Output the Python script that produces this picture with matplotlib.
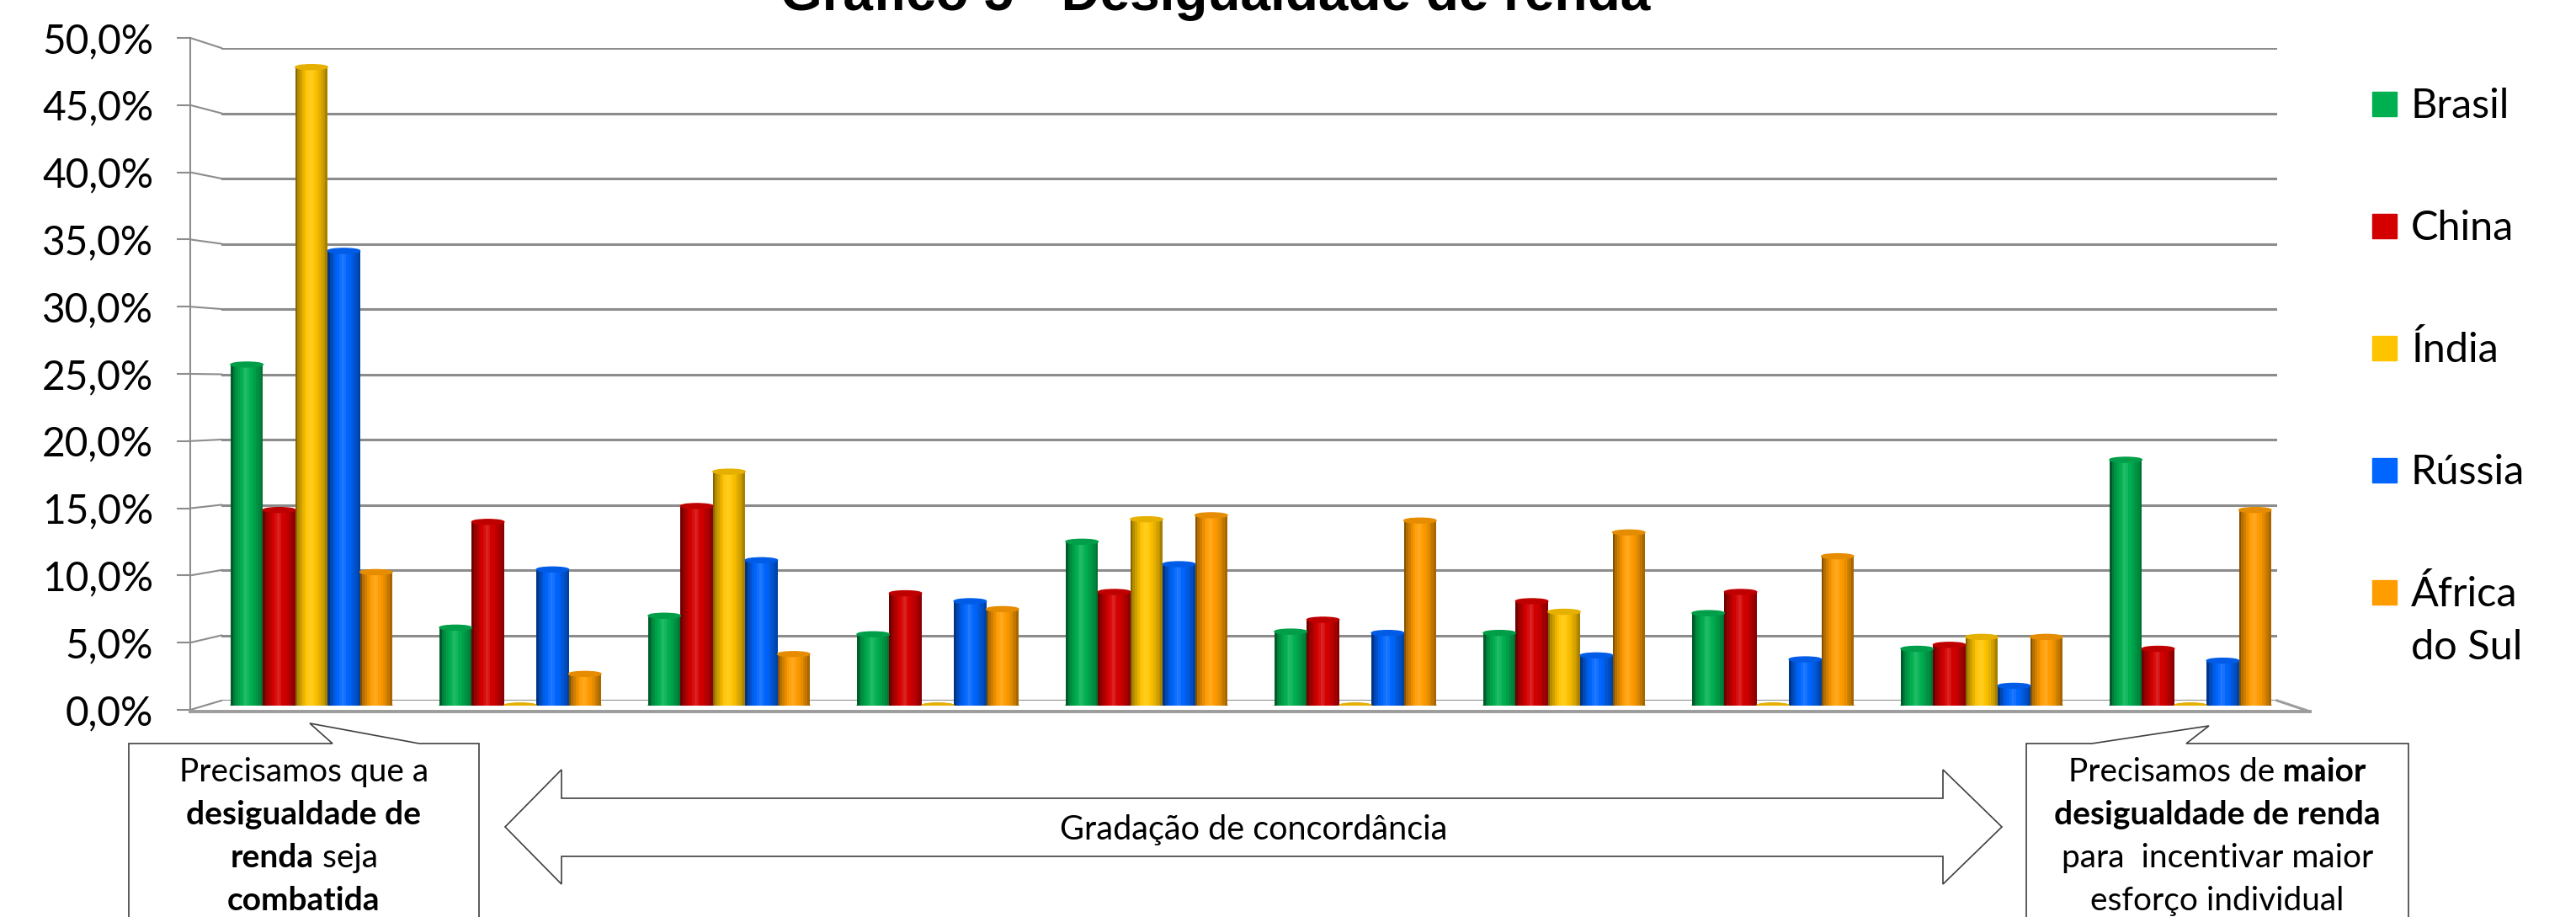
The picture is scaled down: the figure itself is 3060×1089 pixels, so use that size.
import numpy as np
import matplotlib.pyplot as plt
from matplotlib.patches import Ellipse, Polygon, Rectangle
from matplotlib.ticker import FuncFormatter, MultipleLocator
from matplotlib.colors import to_rgb

# data (percent of respondents per agreement level, 1 = combat inequality ... 10 = more inequality)
series = ['Brasil', 'China', 'Índia', 'Rússia', 'África do Sul']
colors = ['#00B050', '#D40000', '#FFC400', '#0066FF', '#FF9C00']
brasil = [25.8, 5.9, 6.8, 5.4, 12.4, 5.6, 5.5, 7.0, 4.3, 18.6]
china = [14.8, 13.9, 15.1, 8.5, 8.6, 6.5, 7.9, 8.6, 4.6, 4.3]
india = [48.3, 0, 17.7, 0, 14.1, 0, 7.1, 0, 5.2, 0]
russia = [34.4, 10.3, 11.0, 7.9, 10.7, 5.5, 3.8, 3.5, 1.5, 3.4]
africa = [10.1, 2.4, 3.9, 7.3, 14.4, 14.0, 13.1, 11.3, 5.2, 14.8]
data = [brasil, china, india, russia, africa]
yticks = np.arange(0, 51, 5)

W, H = 3060, 1089
plt.rcParams['font.family'] = ['Lato', 'DejaVu Sans']
fig = plt.figure(figsize=(W / 100, H / 100), dpi=100)


def box(l, t, r, b):
    # pixel box (top-left origin) -> figure fraction rect
    return [l / W, 1 - b / H, (r - l) / W, (b - t) / H]


def shade(base, f):
    if f <= 1:
        return tuple(base * f)
    return tuple(base + (1 - base) * min(1, (f - 1) * 2.5))


grid_c = '#8c8c8c'

# back wall with gridlines
ax_wall = fig.add_axes(box(263, 57, 2705, 832), zorder=0)
ax_wall.set_ylim(0, 50)
ax_wall.set_xlim(0, 1)
ax_wall.set_yticks(yticks)
ax_wall.grid(axis='y', color=grid_c, lw=2.2)
ax_wall.tick_params(left=False, bottom=False, labelleft=False, labelbottom=False)
for sp in ax_wall.spines.values():
    sp.set_visible(False)

# front value axis
ax_front = fig.add_axes(box(226, 45, 227, 843), zorder=1)
ax_front.set_ylim(0, 50)
ax_front.yaxis.set_major_locator(MultipleLocator(5))
ax_front.yaxis.set_major_formatter(FuncFormatter(lambda v, p: f'{v:.1f}%'.replace('.', ',')))
ax_front.tick_params(axis='y', length=11.5, width=1.5, color=grid_c, labelsize=34.5, pad=20)
ax_front.tick_params(bottom=False, labelbottom=False)
for k in ['top', 'right', 'bottom']:
    ax_front.spines[k].set_visible(False)
ax_front.spines['left'].set_color(grid_c)
ax_front.spines['left'].set_linewidth(1.5)
ax_front.patch.set_alpha(0)

# pixel overlay for 3D floor, legend and annotations
ax_px = fig.add_axes([0, 0, 1, 1], zorder=1)
ax_px.set_xlim(0, W)
ax_px.set_ylim(H, 0)
ax_px.axis('off')

for v in yticks:
    xf, yf = ax_front.transData.transform((0, v))
    xb, yb = ax_wall.transData.transform((0, v))
    ax_px.plot([xf, xb], [H - yf, H - yb], color=grid_c, lw=1.5)

floor_c = '#9c9c9c'
ax_px.plot([226, 2744], [845, 845], color=floor_c, lw=2.8)
ax_px.plot([2705, 2744], [832, 845], color=floor_c, lw=2.2)

# cylinder bars
ax_bar = fig.add_axes(box(263, 53, 2705, 838), zorder=2)
ax_bar.set_ylim(0, 50)
ax_bar.set_xlim((263 - 370) / 248, (2705 - 370) / 248)
ax_bar.axis('off')
x = np.arange(len(brasil))
bw = 38.4 / 248
cap_h = 0.38
prof_t = [0, .1, .3, .48, .7, .9, 1]
prof_f = [.42, .7, .98, 1.06, .95, .75, .6]
nsl = 14
for s, (vals, col) in enumerate(zip(data, colors)):
    base = np.array(to_rgb(col))
    xs = x + (s - 2) * bw
    for k in range(nsl):
        f = np.interp((k + .5) / nsl, prof_t, prof_f)
        ax_bar.bar(xs - bw / 2 + (k + .5) * bw / nsl, vals, width=bw / nsl * 1.05,
                   color=shade(base, f), linewidth=0, zorder=2)
    for xi, v in zip(xs, vals):
        ax_bar.add_patch(Ellipse((xi, 0), bw, cap_h, color=shade(base, .8), zorder=1))
        ax_bar.add_patch(Ellipse((xi, v), bw, cap_h, color=shade(base, .9), zorder=3))

# legend ("África do Sul" wraps onto two lines)
for i, (name, col) in enumerate(zip(series, colors)):
    yc = 123 + 145 * i
    ax_px.add_patch(Rectangle((2818, yc - 14.5), 29, 29, color=col))
    for j, line in enumerate(name.replace(' do ', '\ndo ').split('\n')):
        ax_px.text(2864, yc + 17 + 63 * j, line, fontsize=35, va='baseline', ha='left')

# title (cut at top like the source)
fig.text(1444 / W, 1 - 12 / H, 'Gráfico 5 - Desigualdade de renda', fontsize=46,
         fontweight='bold', family='Liberation Sans', ha='center', va='baseline')

# callouts
edge = '#404040'
ax_px.add_patch(Polygon([(153, 1095), (153, 883), (395, 883), (368, 859), (498, 883),
                         (569, 883), (569, 1095)], closed=True, fc='white', ec=edge, lw=1.2))
ax_px.add_patch(Polygon([(2407, 1095), (2407, 883), (2485, 883), (2624, 862), (2597, 883),
                         (2861, 883), (2861, 1095)], closed=True, fc='white', ec=edge, lw=1.2))
ax_px.add_patch(Polygon([(600, 982), (667, 914), (667, 948), (2308, 948), (2308, 914),
                         (2378, 982), (2308, 1050), (2308, 1017), (667, 1017), (667, 1050)],
                        closed=True, fc='white', ec=edge, lw=1.2))
ax_px.text(1489, 982, 'Gradação de concordância', fontsize=28.5, ha='center', va='center_baseline')

renderer = fig.canvas.get_renderer()


def rich_line(xc, yb, parts, size=28):
    texts = [ax_px.text(0, yb, s, fontsize=size, fontweight=w, va='baseline', ha='left')
             for s, w in parts]
    widths = [t.get_window_extent(renderer).width for t in texts]
    x0 = xc - sum(widths) / 2
    for t, wd in zip(texts, widths):
        t.set_x(x0)
        x0 += wd


left_lines = [[('Precisamos que a', 'normal')],
              [('desigualdade de', 'bold')],
              [('renda', 'bold'), (' seja', 'normal')],
              [('combatida', 'bold')]]
right_lines = [[('Precisamos de', 'normal'), (' maior', 'bold')],
               [('desigualdade de renda', 'bold')],
               [('para  incentivar maior', 'normal')],
               [('esforço individual', 'normal')]]
for i, (lp, rp) in enumerate(zip(left_lines, right_lines)):
    yb = 928 + 51 * i
    rich_line(361, yb, lp)
    rich_line(2634, yb, rp)

fig.savefig('out.png', dpi=100)
